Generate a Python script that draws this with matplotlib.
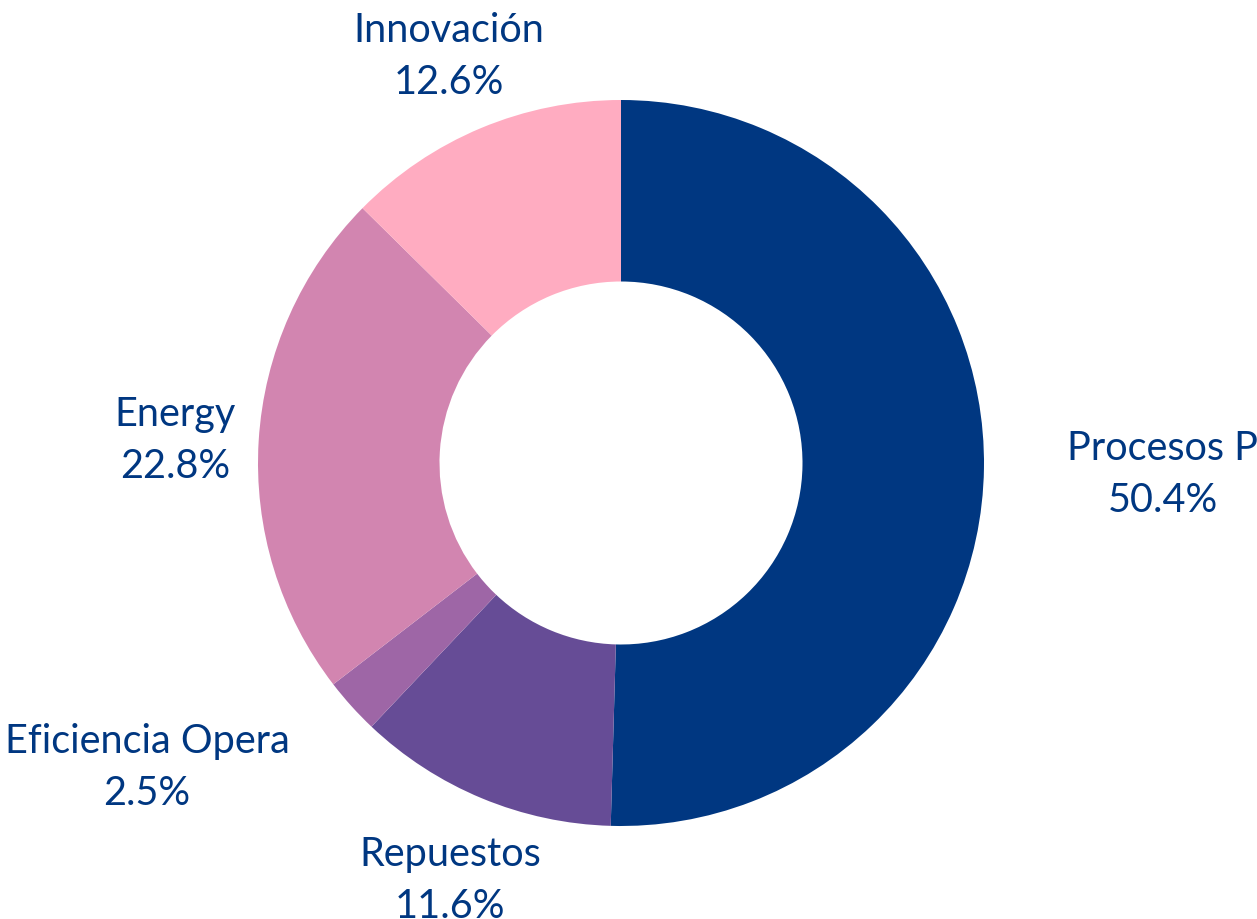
import numpy as np
import matplotlib.pyplot as plt

labels = ['Procesos P', 'Repuestos', 'Eficiencia Opera', 'Energy', 'Innovación']
values = [50.4, 11.6, 2.5, 22.8, 12.6]
colors = ['#003781', '#664c96', '#9e66a6', '#d285b0', '#ffacc1']
text_color = '#003781'

plt.rcParams['font.family'] = ['Lato', 'DejaVu Sans']

fig = plt.figure(figsize=(12.57, 9.2), dpi=100)
ax = fig.add_axes([0, 0, 1, 1])

wedges, _ = ax.pie(values, colors=colors, startangle=90, counterclock=False,
                   radius=1.0, wedgeprops=dict(width=0.5, linewidth=0))

ax.set_aspect('equal')
ax.set_xlim(-621 / 363, (1257 - 621) / 363)
ax.set_ylim(-(920 - 464) / 363, 464 / 363)
ax.axis('off')

fig.canvas.draw()
renderer = fig.canvas.get_renderer()
label_r = 1.23
for w, lab, val in zip(wedges, labels, values):
    mid = np.deg2rad((w.theta1 + w.theta2) / 2)
    x, y = label_r * np.cos(mid), label_r * np.sin(mid)
    t = ax.annotate(f'{lab}\n{val:.1f}%', (x, y), xytext=(0, -4),
                    textcoords='offset pixels', ha='center', va='center',
                    multialignment='center', fontsize=28.5, color=text_color,
                    linespacing=1.5)
    # push the label outward if centred text would touch the ring
    bb = t.get_window_extent(renderer).transformed(ax.transData.inverted())
    xs = np.clip(0, bb.x0, bb.x1)
    ys = np.clip(0, bb.y0, bb.y1)
    if np.hypot(xs, ys) < 1.0:
        t.set_ha('left' if x > 0 else 'right')

fig.savefig('out.png', dpi=100, facecolor='white')
